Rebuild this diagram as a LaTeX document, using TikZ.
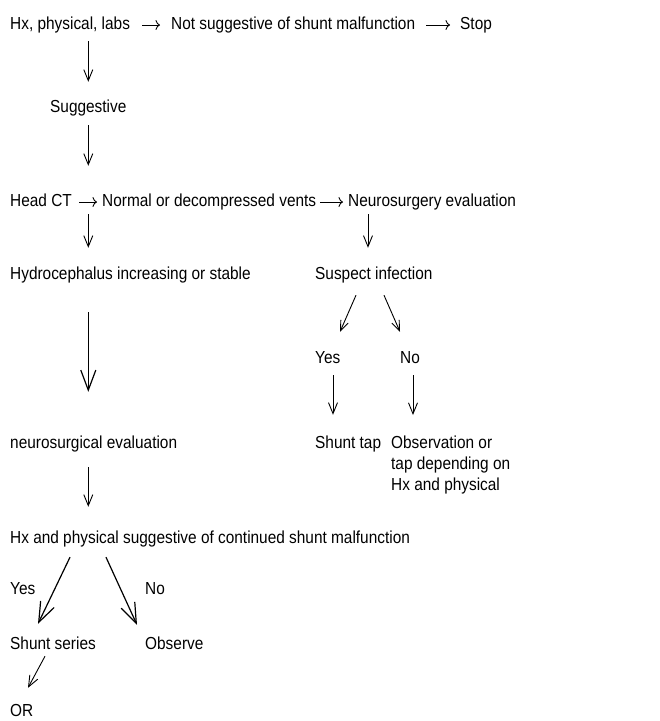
\documentclass[tikz,border=0pt]{standalone}
\usepackage{fontspec}
\setmainfont{Liberation Sans}[FakeStretch=0.885]
\usetikzlibrary{arrows.meta}

\begin{document}
\begin{tikzpicture}[x=1pt,y=-1pt,
  lbl/.style={anchor=base west,inner sep=0pt,text height=12pt,text depth=4pt,font=\fontsize{17.4}{21}\selectfont},
  arr/.style={line width=0.9pt,-{Straight Barb[length=11pt,width=9pt]}},
  diagarr/.style={line width=0.9pt,-{Straight Barb[length=10pt,width=8pt]}},
  bigarr/.style={line width=1.2pt,-{Straight Barb[length=20pt,width=15pt]}},
  harr/.style={line width=0.9pt,-{To[length=4.5pt,width=10pt]}}]
\useasboundingbox (0,0) rectangle (660,721);
\node[lbl] (hx) at (10,29) {Hx, physical, labs};
\node[lbl] (nsug) at (171,29) {Not suggestive of shunt malfunction};
\node[lbl] (stop) at (460,29) {Stop};
\node[lbl] (sugg) at (50,112) {Suggestive};
\node[lbl] (head) at (10,206) {Head CT};
\node[lbl] (normal) at (102,206) {Normal or decompressed vents};
\node[lbl] (neuro) at (348,206) {Neurosurgery evaluation};
\node[lbl] (hydro) at (10,279) {Hydrocephalus increasing or stable};
\node[lbl] (susp) at (315,279) {Suspect infection};
\node[lbl] (yes) at (315,363) {Yes};
\node[lbl] (no) at (400,363) {No};
\node[lbl] (neval) at (10,448) {neurosurgical evaluation};
\node[lbl] (tap) at (315,448) {Shunt tap};
\node[inner sep=0pt,anchor=north west,align=left,font=\fontsize{17.4}{21}\selectfont] (obs) at (391,436) {Observation or\\tap depending on\\Hx and physical};
\node[lbl] (hxsug) at (10,543) {Hx and physical suggestive of continued shunt malfunction};
\node[lbl] (yes2) at (10,594) {Yes};
\node[lbl] (no2) at (145,594) {No};
\node[lbl] (series) at (10,649) {Shunt series};
\node[lbl] (observe) at (145,649) {Observe};
\node[lbl] (sor) at (10,716) {OR};
\draw[harr,shorten <=12pt,shorten >=11pt] (hx.east) -- (nsug.west);
\draw[harr,shorten <=11pt,shorten >=10pt] (nsug.east) -- (stop.west);
\draw[arr,shorten <=8pt,shorten >=18pt] (hx.south -| sugg.south) -- (sugg.north);
\draw[arr,shorten <=9pt,shorten >=28pt] (sugg.south) -- (head.north -| sugg.south);
\draw[harr,shorten <=7pt,shorten >=5pt] (head.east) -- (normal.west);
\draw[harr,shorten <=4pt,shorten >=5pt] (normal.east) -- (neuro.west);
\draw[arr,shorten <=4pt,shorten >=19pt] (head.south -| sugg.south) -- (hydro.north -| sugg.south);
\draw[arr,shorten <=4pt,shorten >=19pt] ([xshift=20pt]neuro.south west) -- ([xshift=20pt]neuro.south west |- susp.north);
\draw[diagarr] ([shift={(41,12)}]susp.south west) -- ([shift={(25,-19)}]yes.north west);
\draw[diagarr] ([shift={(69,12)}]susp.south west) -- ([shift={(0,-19)}]no.north west);
\draw[arr] ([shift={(18,8)}]yes.south west) -- ([shift={(18,-21)}]tap.north west);
\draw[arr] ([shift={(13,8)}]no.south west) -- ([shift={(22,-21)}]obs.north west);
\draw[bigarr,shorten <=29pt,shorten >=44pt] (hydro.south -| sugg.south) -- (neval.north -| sugg.south);
\draw[arr,shorten <=15pt,shorten >=24pt] (neval.south -| sugg.south) -- (hxsug.north -| sugg.south);
\draw[bigarr] ([shift={(60,10)}]hxsug.south west) -- ([shift={(28,-13)}]series.north west);
\draw[bigarr] ([shift={(96,10)}]hxsug.south west) -- ([shift={(-8,-12)}]observe.north west);
\draw[arr] ([shift={(35,3)}]series.south west) -- ([shift={(18,-16)}]sor.north west);
\end{tikzpicture}
\end{document}
